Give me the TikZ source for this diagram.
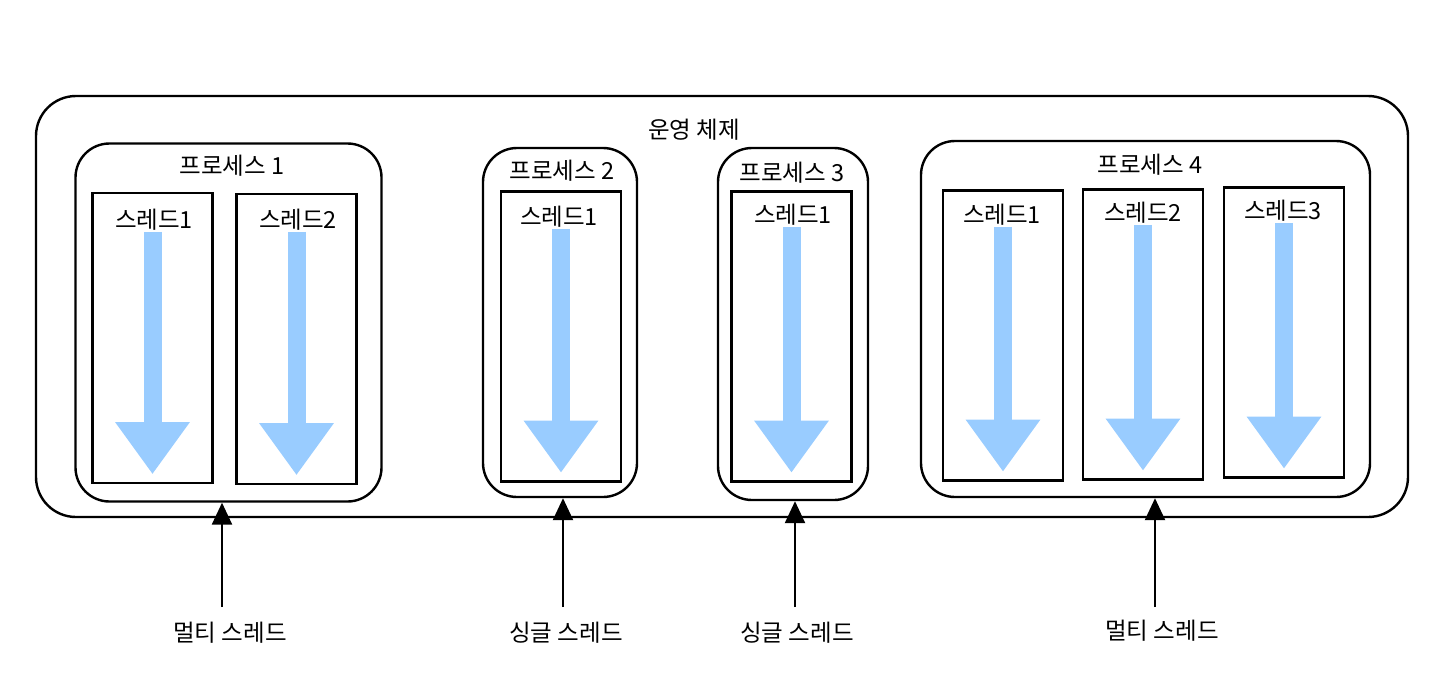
\documentclass[tikz,border=0pt]{standalone}
\usepackage{fontspec}
\setmainfont{Noto Sans CJK KR}
\usetikzlibrary{arrows.meta}
\definecolor{flowblue}{HTML}{99CCFF}
\tikzset{
  txt/.style={inner sep=0pt, font=\fontsize{23.5}{27}\selectfont},
  osbox/.style={draw, line width=2.4pt, rounded corners=40pt},
  procbox/.style={draw, line width=2.4pt, rounded corners=34pt},
  thread/.style={draw, line width=2.4pt, minimum width=120pt, minimum height=290pt},
  flow/.style={draw=flowblue, line width=18pt, shorten <=1pt, shorten >=10pt, -{Triangle[width=71pt,length=52pt]}},
  pointer/.style={line width=2.4pt, -{Triangle[width=20pt,length=22pt]}}
}

\begin{document}
\begin{tikzpicture}[x=1pt,y=-1pt]
    \useasboundingbox (0,0) rectangle (1452,696);
    \node[osbox, minimum width=1372pt, minimum height=421pt] (os) at (722,306.5) {};
    \node[txt] (oslab) at (694,130) {운영 체제};

    \node[procbox, minimum width=306pt, minimum height=358pt] (p1) at (228.5,322.5) {};
    \node[procbox, minimum width=154pt, minimum height=349pt] (p2) at (560,322.5) {};
    \node[procbox, minimum width=150pt, minimum height=352pt] (p3) at (793,324) {};
    \node[procbox, minimum width=449pt, minimum height=356pt] (p4) at (1145.5,319) {};
    \node[txt] (p1lab) at (232,166) {프로세스 1};
    \node[txt] (p2lab) at (562,171) {프로세스 2};
    \node[txt] (p3lab) at (792,173) {프로세스 3};
    \node[txt] (p4lab) at (1150,165) {프로세스 4};

    \node[thread] (t11) at (152.5,338) {};
    \node[thread] (t12) at (296.5,339) {};
    \node[thread] (t21) at (561,336.5) {};
    \node[thread] (t31) at (791.5,336.5) {};
    \node[thread] (t41) at (1003,335.5) {};
    \node[thread] (t42) at (1143,334.5) {};
    \node[thread] (t43) at (1284,332.5) {};

    \foreach \t/\name/\x/\y in {t11/스레드1/154/220, t12/스레드2/298/220, t21/스레드1/559/217,
        t31/스레드1/793/215, t41/스레드1/1002/215, t42/스레드2/1143/213, t43/스레드3/1283/211} {
        \node[txt] (\t lab) at (\x,\y) {\name};
        \draw[flow] (\t lab.south -| \t) -- (\t.south);
    }

    \node[txt] (m1) at (230,633) {멀티 스레드};
    \node[txt] (s2) at (566,633) {싱글 스레드};
    \node[txt] (s3) at (797,633) {싱글 스레드};
    \node[txt] (m4) at (1162,631) {멀티 스레드};
    \coordinate (a1) at (222,607);
    \coordinate (a2) at (563,607);
    \coordinate (a3) at (795,607);
    \coordinate (a4) at (1155,607);
    \draw[pointer] (a1) -- (a1 |- p1.south);
    \draw[pointer] (a2) -- (a2 |- p2.south);
    \draw[pointer] (a3) -- (a3 |- p3.south);
    \draw[pointer] (a4) -- (a4 |- p4.south);
\end{tikzpicture}
\end{document}
